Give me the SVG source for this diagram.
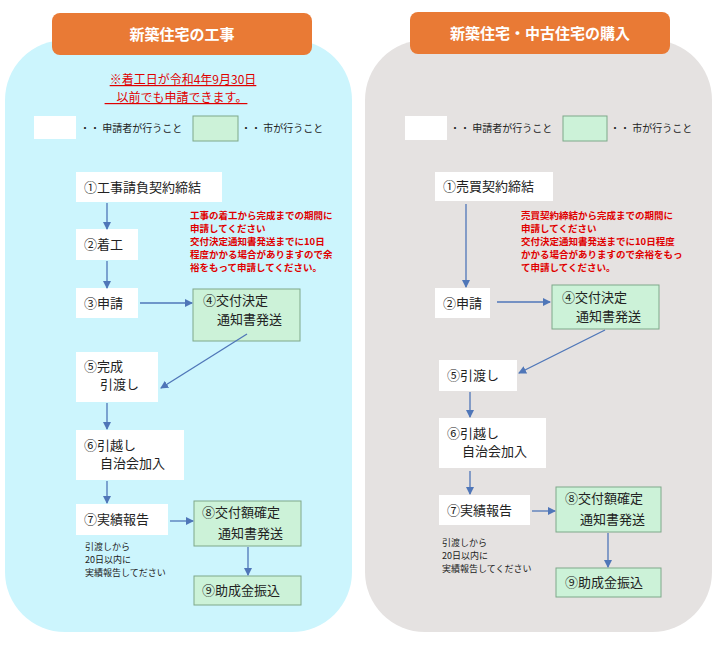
<svg xmlns="http://www.w3.org/2000/svg" width="718" height="645" viewBox="0 0 718 645">
<style>
text{font-family:"Noto Sans CJK JP","Liberation Sans",sans-serif;fill:#222}
.hd{fill:#E97A35}
.ht{fill:#fff;font-size:15px;font-weight:bold;text-anchor:middle}
.w{fill:#fff}
.g{fill:#CCF2D8;stroke:#7FA88A;stroke-width:1}
.t{font-size:13px}
.lg{font-size:10px}
.rd{fill:#E00000;font-size:9.5px;font-weight:bold}
.sm{font-size:9px}
.c line{stroke:#4F76B8;stroke-width:1.3;marker-end:url(#a)}
</style>
<defs><marker id="a" markerWidth="8" markerHeight="8" refX="7" refY="4" orient="auto" markerUnits="userSpaceOnUse"><path d="M0,0L8,4L0,8Z" fill="#4F76B8"/></marker></defs>
<rect width="718" height="645" fill="#fff"/>
<g id="left-panel">
<rect x="5" y="40" width="347" height="592" rx="60" fill="#CCF5FD"/>
<rect class="hd" x="52" y="13" width="260" height="42" rx="8"/>
<text class="ht" x="182" y="40">新築住宅の工事</text>
<text x="183" y="84" style="fill:#E00000;font-size:12px;text-anchor:middle;text-decoration:underline">※着工日が令和4年9月30日</text>
<text x="176" y="102" style="fill:#E00000;font-size:12px;text-anchor:middle;text-decoration:underline">　以前でも申請できます。</text>
<rect class="w" x="34" y="116" width="42" height="23"/><text class="lg" x="80" y="132">・・ 申請者が行うこと</text>
<rect class="g" x="193" y="116" width="45" height="25"/><text class="lg" x="241" y="132">・・ 市が行うこと</text>
<text class="rd" x="190" y="219">工事の着工から完成までの期間に</text>
<text class="rd" x="190" y="232">申請してください</text>
<text class="rd" x="190" y="245">交付決定通知書発送までに10日</text>
<text class="rd" x="190" y="258">程度かかる場合がありますので余</text>
<text class="rd" x="190" y="271">裕をもって申請してください。</text>
<text class="sm" x="85" y="550">引渡しから</text>
<text class="sm" x="85" y="563">20日以内に</text>
<text class="sm" x="85" y="576">実績報告してださい</text>
</g>
<g id="right-panel">
<rect x="365" y="40" width="347" height="592" rx="60" fill="#E5E2E1"/>
<rect class="hd" x="410" y="12" width="260" height="42" rx="8"/>
<text class="ht" x="540" y="39">新築住宅・中古住宅の購入</text>
<rect class="w" x="405" y="116" width="42" height="24"/><text class="lg" x="450" y="132">・・ 申請者が行うこと</text>
<rect class="g" x="563" y="116" width="44" height="25"/><text class="lg" x="610" y="132">・・ 市が行うこと</text>
<text class="rd" x="521" y="219">売買契約締結から完成までの期間に</text>
<text class="rd" x="521" y="232">申請してください</text>
<text class="rd" x="521" y="245">交付決定通知書発送までに10日程度</text>
<text class="rd" x="521" y="258">かかる場合がありますので余裕をもっ</text>
<text class="rd" x="521" y="271">て申請してください。</text>
<text class="sm" x="442" y="546">引渡しから</text>
<text class="sm" x="442" y="559">20日以内に</text>
<text class="sm" x="442" y="572">実績報告してください</text>
</g>
<g id="L1"><rect class="w" x="76" y="172" width="146" height="30"/><text class="t" x="84" y="192">①工事請負契約締結</text></g>
<g id="L2"><rect class="w" x="76" y="229" width="62" height="31"/><text class="t" x="84" y="249">②着工</text></g>
<g id="L3"><rect class="w" x="76" y="288" width="62" height="30"/><text class="t" x="84" y="308">③申請</text></g>
<g id="L4"><rect class="g" x="193" y="289" width="107" height="52"/><text class="t" x="203" y="305">④交付決定</text><text class="t" x="217" y="324">通知書発送</text></g>
<g id="L5"><rect class="w" x="76" y="352" width="82" height="50"/><text class="t" x="84" y="371">⑤完成</text><text class="t" x="100" y="389">引渡し</text></g>
<g id="L6"><rect class="w" x="76" y="430" width="108" height="50"/><text class="t" x="84" y="450">⑥引越し</text><text class="t" x="100" y="468">自治会加入</text></g>
<g id="L7"><rect class="w" x="76" y="504" width="92" height="31"/><text class="t" x="84" y="524">⑦実績報告</text></g>
<g id="L8"><rect class="g" x="194" y="501" width="107" height="45"/><text class="t" x="202" y="517">⑧交付額確定</text><text class="t" x="218" y="538">通知書発送</text></g>
<g id="L9"><rect class="g" x="194" y="576" width="107" height="29"/><text class="t" x="202" y="595">⑨助成金振込</text></g>
<g id="R1"><rect class="w" x="435" y="172" width="118" height="29"/><text class="t" x="443" y="191">①売買契約締結</text></g>
<g id="R2"><rect class="w" x="435" y="288" width="55" height="30"/><text class="t" x="443" y="308">②申請</text></g>
<g id="R4"><rect class="g" x="552" y="285" width="107" height="44"/><text class="t" x="562" y="302">④交付決定</text><text class="t" x="576" y="321">通知書発送</text></g>
<g id="R5"><rect class="w" x="439" y="360" width="78" height="31"/><text class="t" x="447" y="380">⑤引渡し</text></g>
<g id="R6"><rect class="w" x="439" y="418" width="107" height="50"/><text class="t" x="447" y="438">⑥引越し</text><text class="t" x="462" y="456">自治会加入</text></g>
<g id="R7"><rect class="w" x="439" y="495" width="91" height="30"/><text class="t" x="447" y="515">⑦実績報告</text></g>
<g id="R8"><rect class="g" x="556" y="487" width="105" height="45"/><text class="t" x="565" y="503">⑧交付額確定</text><text class="t" x="580" y="524">通知書発送</text></g>
<g id="R9"><rect class="g" x="556" y="568" width="105" height="29"/><text class="t" x="565" y="587">⑨助成金振込</text></g>
<g id="connectors" class="c">
<line x1="107" y1="203" x2="107" y2="229"/>
<line x1="107" y1="261" x2="107" y2="288"/>
<line x1="140" y1="303" x2="192" y2="303"/>
<line x1="247" y1="334" x2="161" y2="388"/>
<line x1="107" y1="403" x2="107" y2="429"/>
<line x1="107" y1="481" x2="107" y2="503"/>
<line x1="170" y1="521" x2="193" y2="521"/>
<line x1="248" y1="547" x2="248" y2="575"/>
<line x1="466" y1="204" x2="466" y2="287"/>
<line x1="497" y1="302" x2="550" y2="302"/>
<line x1="605" y1="330" x2="519" y2="373"/>
<line x1="470" y1="392" x2="470" y2="417"/>
<line x1="470" y1="471" x2="470" y2="494"/>
<line x1="532" y1="511" x2="555" y2="511"/>
<line x1="608" y1="533" x2="608" y2="567"/>
</g>
</svg>
